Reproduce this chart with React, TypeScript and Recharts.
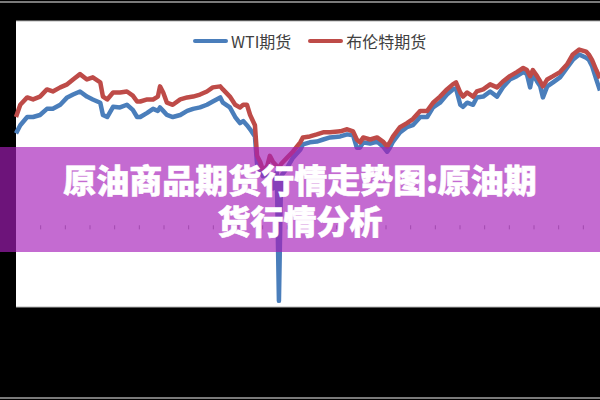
import { CartesianGrid, Legend, Line, LineChart, ReferenceLine, XAxis, YAxis } from "recharts";

// calendar days since the start of the chart (about 3 years)
const days = [
  0, 8, 21, 32, 45, 58, 69, 83, 96, 107, 120, 133, 144, 158, 163, 171, 182, 195, 208, 219,
  227, 233, 246, 257, 266, 270, 276, 283, 294, 308, 321, 332, 345, 358, 369, 383, 388, 401, 411, 420,
  426, 433, 439, 448, 452, 458, 463, 471, 476, 482, 489, 493, 497, 508, 519, 533, 538, 551, 564, 576,
  589, 608, 621, 632, 639, 645, 651, 664, 677, 688, 696, 701, 707, 720, 733, 744, 758, 771, 782, 795,
  808, 819, 825, 833, 838, 846, 857, 864, 876, 889, 902, 913, 926, 939, 951, 958, 964, 969, 977, 983,
  988, 996, 1007, 1020, 1033, 1044, 1056, 1069, 1074, 1080, 1088, 1095,
];

const wti = [
  45, 49, 53, 53, 54, 57, 57, 59, 62.6, 64, 65.5, 63, 61.6, 60, 54, 53, 58, 57.7, 59, 56.5,
  53, 53, 55, 57, 56, 57.7, 56, 54, 53, 54, 56, 57, 57.7, 59, 60.6, 62.6, 60, 57.7, 53, 50,
  51, 49, 47, 43.5, 30, 27, 24, 25, 22, 18, 26, -37, 24, 28, 33, 37, 39.6, 40.6, 41, 42,
  43, 43.5, 44.5, 44, 38, 38, 40.6, 40, 41, 38.6, 36, 38, 41, 45.5, 48, 49, 53, 53, 57.7, 60,
  64, 66.5, 67, 59, 58, 60, 59, 62.6, 63, 65.5, 63, 67.5, 71.4, 73, 75, 74, 67.5, 74, 70.4, 68,
  62.6, 68, 70, 72.4, 77, 81, 83.6, 82, 81, 78, 71.4, 66,
];

const brent = [
  53, 59, 62.6, 61.6, 63, 66.5, 65.5, 67.5, 69, 71.4, 74, 71.4, 72.4, 70, 63, 61.6, 65, 65, 65.5, 63.5,
  60.6, 60.6, 61.6, 61.6, 63, 68, 65, 60, 59, 61.6, 62.6, 63, 64, 65.5, 67.5, 68, 66.5, 63, 59, 57.7,
  59, 59, 54, 49, 34, 31, 27, 29, 34, 31, 29, 28, 30, 33, 36, 40.6, 43, 43.5, 44.5, 45.5,
  45.5, 46, 47, 46, 42, 40.6, 43, 42, 43, 41, 38.6, 40.6, 43.5, 48, 50, 52, 56, 56, 60, 63,
  66.5, 69, 70, 65, 63, 65, 63, 65.5, 66.5, 69, 67.5, 70.4, 73, 75, 77, 76, 73, 76, 73, 70.4,
  68, 71.4, 73, 75, 78.7, 83.6, 86, 85, 83.6, 81, 76, 72,
];

const yTicks = [-40, -20, 0, 20, 40, 60, 80, 100];
const xTicks = Array.from({ length: 23 }, (_, i) => (i + 1) * 46.25);

const title = "原油商品期货行情走势图:原油期\n货行情分析";

const data = days.map((day, i) => ({ day, wti: wti[i], brent: brent[i] }));

function renderLegend(props: any) {
  const payload = props.payload ?? [];
  return (
    <div
      style={{
        display: "flex",
        alignItems: "center",
        gap: 17,
        fontFamily: '"Noto Sans CJK SC", "Noto Sans", sans-serif',
        fontSize: 16,
        color: "#404040",
        lineHeight: "20px",
      }}
    >
      {payload.map((entry: any) => (
        <div key={entry.value} style={{ display: "flex", alignItems: "center" }}>
          <span
            style={{
              display: "inline-block",
              width: 35,
              height: 4,
              borderRadius: 2,
              background: entry.color,
              marginRight: 3,
            }}
          />
          <span>{entry.value}</span>
        </div>
      ))}
    </div>
  );
}

export default function App() {
  return (
    <div
      style={{
        position: "fixed",
        left: 0,
        top: 0,
        width: 600,
        height: 400,
        background: "#000",
        overflow: "hidden",
      }}
    >
      <div style={{ position: "absolute", left: 0, top: 1, width: 600, height: 2, background: "#7a7a7a" }} />
      <div style={{ position: "absolute", left: 0, top: 397, width: 600, height: 2, background: "#7a7a7a" }} />
      <LineChart width={600} height={400} data={data} margin={{ top: 21, right: 0, bottom: 93, left: 0 }}>
        <CartesianGrid vertical={false} stroke="#b4b4b4" fill="#fff" fillOpacity={1} />
        <XAxis dataKey="day" type="number" domain={[0, 1095]} hide />
        <YAxis
          domain={[-40, 100]}
          ticks={yTicks}
          width={16}
          tick={false}
          tickSize={5}
          tickLine={{ stroke: "#b0b0b0" }}
          axisLine={false}
        />
        {xTicks.map((t) => (
          <ReferenceLine
            key={t}
            segment={[
              { x: t, y: 0 },
              { x: t, y: -2 },
            ]}
            stroke="#999"
          />
        ))}
        <Legend
          verticalAlign="middle"
          align="center"
          content={renderLegend}
          wrapperStyle={{ top: 31, left: 193, width: 320 }}
        />
        <Line
          type="linear"
          dataKey="wti"
          name="WTI期货"
          stroke="#4a7ebb"
          strokeWidth={4.5}
          strokeLinejoin="round"
          dot={false}
          isAnimationActive={false}
        />
        <Line
          type="linear"
          dataKey="brent"
          name="布伦特期货"
          stroke="#be4b48"
          strokeWidth={4.5}
          strokeLinejoin="round"
          dot={false}
          isAnimationActive={false}
        />
      </LineChart>
      <div
        style={{
          position: "absolute",
          left: 0,
          top: 147,
          width: 600,
          height: 105,
          boxSizing: "border-box",
          paddingTop: 12,
          background: "rgba(165, 30, 185, 0.66)",
          color: "#fff",
          fontFamily: '"Noto Sans CJK SC", sans-serif',
          fontWeight: 900,
          fontSize: 33,
          lineHeight: "41px",
          textAlign: "center",
          whiteSpace: "pre-line",
          WebkitTextStroke: "0.6px #fff",
        }}
      >
        {title}
      </div>
    </div>
  );
}
